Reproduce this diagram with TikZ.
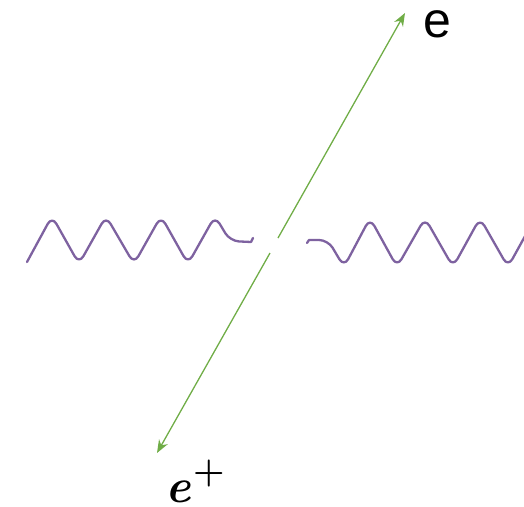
\documentclass[tikz,border=0pt]{standalone}
\usepackage{fontspec}
\newfontfamily\arialfont{Liberation Sans}
\usetikzlibrary{arrows.meta}
\definecolor{cGreen}{HTML}{70AD47}
\definecolor{cPurple}{HTML}{7E62A0}
\tikzset{
  arrow/.style={-{Stealth[length=13pt, width=10pt]}, line width=1.3pt, cGreen},
  wave/.style={line width=2.3pt, cPurple, line cap=round, line join=round,
    rounded corners=9pt},
  ptext/.style={inner sep=1pt, anchor=base west},
}

\begin{document}
\begin{tikzpicture}[x=1pt, y=-1pt]
  \useasboundingbox (0,0) rectangle (524,506);

  % End points of the particle line
  \coordinate (tipU) at (405,13);
  \coordinate (tipL) at (157,453);
  \coordinate (gapU) at (278,238);
  \coordinate (gapL) at (270,253);

  % Labels
  \node[ptext, font=\arialfont\fontsize{50}{54}\selectfont] (elec) at (422,37) {e};
  \node[ptext, font=\fontsize{48}{52}\selectfont] (posi) at (164,502)
    {{\bfseries\itshape e}\kern3pt\raisebox{20pt}{\bfseries\fontsize{36}{40}\selectfont +}};

  % Arrows: electron up, positron down
  \draw[arrow] (gapU) -- (tipU);
  \draw[arrow] (gapL) -- (tipL);

  % Photon from the left
  \draw[wave] (27,262) -- (52,216) -- (79,264) -- (106,216) -- (134,264)
    -- (161,216) -- (188,264) -- (215,216) -- (230,241)
    [rounded corners=0pt] -- (251,242) -- (253,238);

  % Photon from the right
  \begin{scope}
    \clip (0,0) rectangle (524,506);
    \draw[wave] (307,243) [rounded corners=0pt] -- (309,240)
      [rounded corners=9pt] -- (328,240) -- (344,267) -- (370,218)
      -- (397,267) -- (425,218) -- (453,267) -- (480,218) -- (508,267)
      -- (535,218);
  \end{scope}

\end{tikzpicture}
\end{document}
